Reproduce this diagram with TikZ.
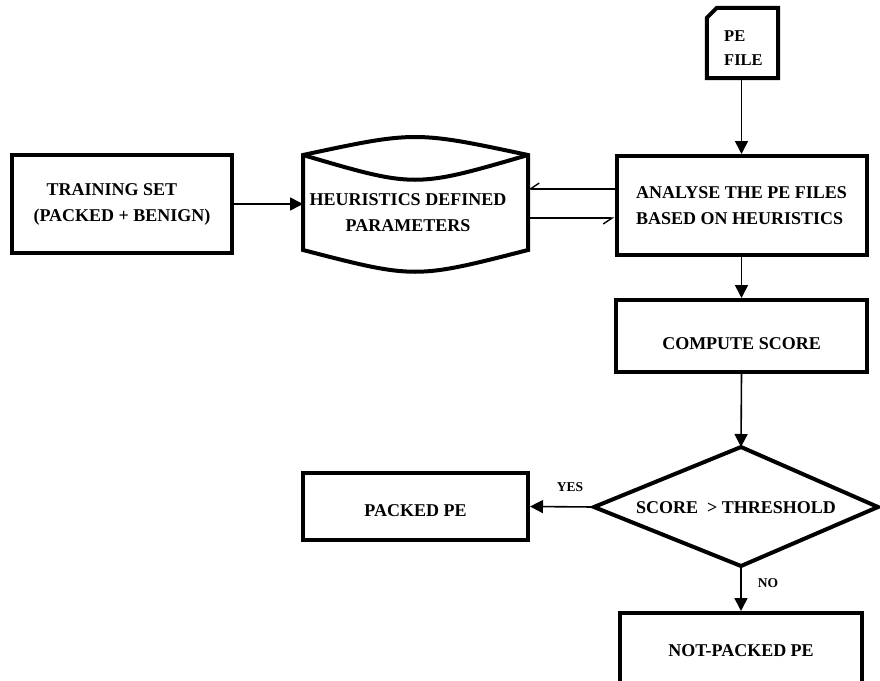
\documentclass[tikz,border=0pt]{standalone}
\usepackage{fontspec}
\setmainfont{Liberation Serif}
\usetikzlibrary{arrows.meta}
\tikzset{
  box/.style={draw, line width=4pt, inner sep=0pt, font=\fontsize{18}{26}\selectfont\bfseries, align=center},
  thickline/.style={line width=4pt, line join=miter},
  arr/.style={line width=1.6pt, -{Triangle[length=13pt,width=13pt]}},
  harp/.style={line width=1.4pt, -{Straight Barb[harpoon,swap,length=9pt,width=12pt,line width=1.4pt]}},
  lbl/.style={font=\fontsize{18}{26}\selectfont\bfseries, align=center, inner sep=0pt},
  small/.style={font=\fontsize{13.5}{16}\selectfont\bfseries, inner sep=0pt}
}
\begin{document}
\begin{tikzpicture}[x=1pt,y=-1pt]
\useasboundingbox (0,0) rectangle (880,680);
\fill[white] (0,0) rectangle (880,680);

% PE file
\node[minimum width=71pt, minimum height=70pt, inner sep=0pt] (pe) at (742.5,43) {};
\draw[thickline] (pe.south west) -- ([yshift=-10pt]pe.north west) -- ([xshift=10pt]pe.north west) -- (pe.north east) -- (pe.south east) -- cycle;
\node[lbl, anchor=west, align=left, font=\fontsize{16.5}{24}\selectfont\bfseries] (pet) at (724,48) {PE\\FILE};

% Training set
\node[box, minimum width=220pt, minimum height=98pt] (train) at (122,204) {TRAINING SET\hspace*{20pt}\\(PACKED + BENIGN)};

% Cylinder
\draw[thickline] (303,155) .. controls (415,131) .. (528,155) -- (528,250) .. controls (415,279) .. (303,250) -- cycle;
\draw[thickline] (303,155) .. controls (415,188) .. (528,155);
\node[lbl] (cyl) at (408,212.5) {HEURISTICS DEFINED\\PARAMETERS};
\coordinate (cylL) at (303,204);
\coordinate (cylR1) at (528,189);
\coordinate (cylR2) at (528,218);

% Analyse
\node[box, minimum width=250pt, minimum height=99pt, align=left] (an) at (741.5,205.5) {ANALYSE THE PE FILES\\BASED ON HEURISTICS};

% Compute score
\node[box, minimum width=251pt, minimum height=72pt] (cs) at (741.5,336) {\raisebox{-13.5pt}[0pt][0pt]{COMPUTE SCORE}};

% Diamond
\coordinate (dt) at (741,447);
\coordinate (dr) at (878,507);
\coordinate (db) at (741,566);
\coordinate (dl) at (594,507);
\draw[thickline] (dt) -- (dr) -- (db) -- (dl) -- cycle;
\node[lbl] (dtext) at (736,508) {SCORE\ \ > THRESHOLD};

% Packed PE
\node[box, minimum width=225pt, minimum height=67pt] (pk) at (415.5,506.5) {\raisebox{-10pt}[0pt][0pt]{PACKED PE}};

% Not packed PE
\node[box, minimum width=242pt, minimum height=80pt] (np) at (741,653) {\raisebox{-3.5pt}[0pt][0pt]{NOT-PACKED PE}};

% Connectors
\draw[arr] (pe.south -| an.north) -- (an.north);
\draw[arr] (train.east) -- (cylL);
\draw[harp] (an.west |- cylR1) -- (cylR1);
\draw[harp] (cylR2) -- (an.west |- cylR2);
\draw[arr] (an.south) -- (cs.north);
\draw[arr] (cs.south) -- (dt);
\draw[arr] (dl) -- (pk.east);
\draw[arr] (db) -- (np.north);

\node[small] (yes) at (570,487) {YES};
\node[small] (no) at (768,583) {NO};
\end{tikzpicture}
\end{document}
